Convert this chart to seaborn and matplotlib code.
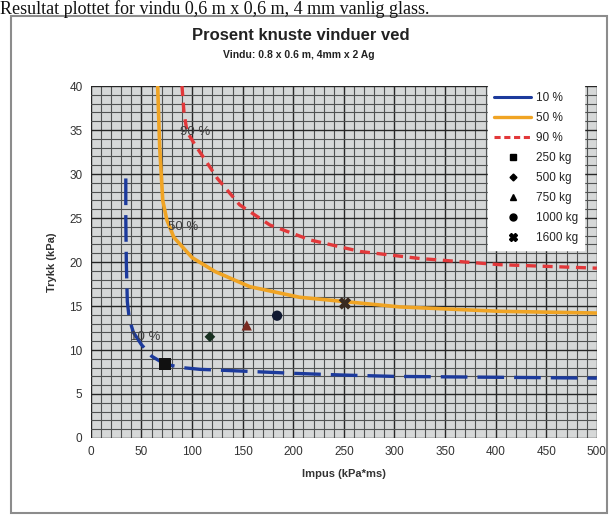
import matplotlib
matplotlib.use("Agg")
import matplotlib.pyplot as plt
from matplotlib.lines import Line2D
from matplotlib.patches import Rectangle
from matplotlib.ticker import MultipleLocator
import seaborn as sns
import pandas as pd

# kurver (impuls, trykk)
imp_10 = [34.5, 34.5, 35, 36, 38, 42, 50, 60, 73, 90, 108, 150, 200, 250, 300, 400, 500]
tr_10 = [29.5, 25, 20, 15.5, 13.5, 12.0, 10.6, 9.3, 8.4, 8.0, 7.8, 7.6, 7.35, 7.15, 7.0, 6.9, 6.8]

imp_50 = [66, 68, 71, 75, 82, 100, 123, 157, 206, 251, 305, 404, 500]
tr_50 = [40, 33, 27, 24.8, 22.8, 20.5, 18.9, 17.2, 16.0, 15.5, 14.9, 14.4, 14.2]

imp_90 = [90, 92, 95, 103, 113, 125, 147, 177, 217, 266, 325, 404, 500]
tr_90 = [40, 37, 34.8, 33.3, 31.6, 29.5, 26.5, 24.2, 22.5, 21.2, 20.4, 19.7, 19.3]

# ladninger
last = ["250 kg", "500 kg", "750 kg", "1000 kg", "1600 kg"]
last_imp = [73, 117.6, 154, 184, 251]
last_tr = [8.4, 11.5, 12.8, 13.9, 15.3]

sns.set_style("white")
plt.rcParams["font.family"] = ["Liberation Sans", "DejaVu Sans"]

fig = plt.figure(figsize=(6.1, 5.16), dpi=100)
ax = fig.add_axes([0.149, 0.1512, 0.8295, 0.682])
ax.set_facecolor("#d6d8d8")

# rutenett
ax.xaxis.set_major_locator(MultipleLocator(50))
ax.yaxis.set_major_locator(MultipleLocator(5))
ax.xaxis.set_minor_locator(MultipleLocator(10))
ax.yaxis.set_minor_locator(MultipleLocator(1))
ax.grid(which="minor", color="#505252", lw=0.8)
ax.grid(which="major", color="#262626", lw=1.0)
ax.set_axisbelow(True)

df10 = pd.DataFrame({"x": imp_10, "y": tr_10})
df50 = pd.DataFrame({"x": imp_50, "y": tr_50})
df90 = pd.DataFrame({"x": imp_90, "y": tr_90})

sns.lineplot(data=df10, x="x", y="y", ax=ax, color="#1c3a9c", lw=2.4,
             sort=False, estimator=None, linestyle=(0, (8, 3)))
sns.lineplot(data=df50, x="x", y="y", ax=ax, color="#f0a424", lw=2.6,
             sort=False, estimator=None)
sns.lineplot(data=df90, x="x", y="y", ax=ax, color="#e2383a", lw=2.4,
             sort=False, estimator=None, linestyle=(0, (3, 2)))

mk = ["s", "D", "^", "o", "X"]
mk_col = ["#111111", "#183020", "#7a2a20", "#101830", "#3a2a20"]
mk_size = [70, 30, 55, 55, 80]
for i in range(len(last)):
    sns.scatterplot(x=[last_imp[i]], y=[last_tr[i]], ax=ax, marker=mk[i],
                    color=mk_col[i], s=mk_size[i], edgecolor="none", zorder=5)

# kurvetekster
ax.text(103, 34.8, "90 %", fontsize=9.5, color="#404040", ha="center", va="center")
ax.text(91, 24, "50 %", fontsize=9.5, color="#404040", ha="center", va="center")
ax.text(54, 11.5, "10 %", fontsize=9.5, color="#404040", ha="center", va="center")

ax.set_xlim(0, 500)
ax.set_ylim(0, 40)
ax.set_xlabel("Impus (kPa*ms)", fontsize=8, fontweight="bold", color="#333333", labelpad=8)
ax.set_ylabel("Trykk (kPa)", fontsize=8, fontweight="bold", color="#333333", labelpad=9)
ax.tick_params(axis="both", which="major", labelsize=8.5, labelcolor="#333333",
               direction="inout", length=5, color="#333333", width=0.8)
ax.tick_params(which="minor", length=0)
for s in ax.spines.values():
    s.set_visible(False)

handles = [
    Line2D([], [], color="#1c3a9c", lw=2.2),
    Line2D([], [], color="#f0a424", lw=2.4),
    Line2D([], [], color="#e2383a", lw=2.2, ls=(0, (2, 1.2))),
]
for i in range(len(last)):
    handles.append(Line2D([], [], ls="none", marker=mk[i], color="black",
                          markersize=[5, 3.5, 5, 5, 6][i]))
labels = ["10 %", "50 %", "90 %"] + last
leg = ax.legend(handles, labels, loc="upper right", bbox_to_anchor=(0.975, 1.0),
                fontsize=8.5, frameon=True, fancybox=False, framealpha=1,
                edgecolor="white", labelspacing=0.68, handlelength=3.2,
                handletextpad=0.4, borderpad=0.5, borderaxespad=0)
for t in leg.get_texts():
    t.set_color("#222222")

# titler
fig.text(0.493, 0.932, "Prosent knuste vinduer ved", fontsize=12, fontweight="bold",
         ha="center", va="center", color="#222222")
fig.text(0.49, 0.893, "Vindu: 0.8 x 0.6 m, 4mm x 2 Ag", fontsize=7.5, fontweight="bold",
         ha="center", va="center", color="#222222")

# bildetekst over rammen
fig.text(0.0, 0.9738, "Resultat plottet for vindu 0,6 m x 0,6 m, 4 mm vanlig glass.",
         fontsize=13, family=["Liberation Serif", "DejaVu Serif"], ha="left",
         va="baseline", color="#111111")

fig.patches.append(Rectangle((0.018, 0.006), 0.977, 0.963, transform=fig.transFigure,
                             fill=False, edgecolor="#8c8c8c", lw=1.5))

fig.savefig("out.png", dpi=100)
